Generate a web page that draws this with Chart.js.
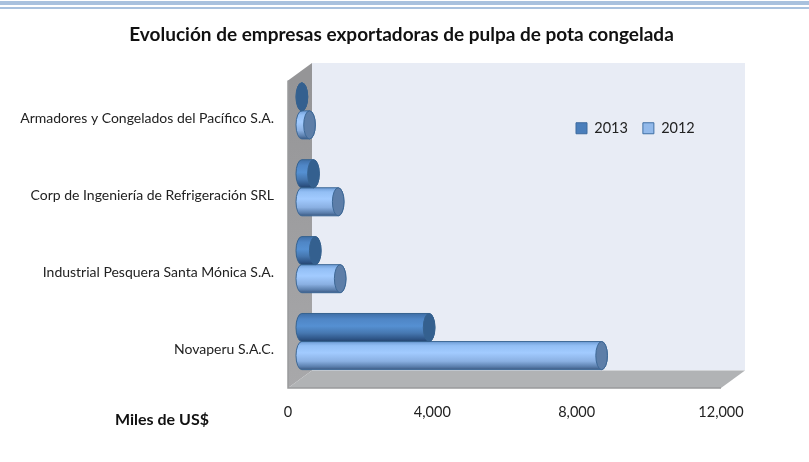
<!DOCTYPE html>
<html><head><meta charset="utf-8">
<style>html,body{margin:0;padding:0;background:#fff}canvas{display:block}</style>
<script src="https://cdn.jsdelivr.net/npm/chart.js@4"></script>
</head><body>
<div style="width:809px;height:462px;position:relative"><canvas id="c" width="809" height="462"></canvas></div>
<script>
const categories = ["Armadores y Congelados del Pacífico S.A.", "Corp de Ingeniería de Refrigeración SRL", "Industrial Pesquera Santa Mónica S.A.", "Novaperu S.A.C."];
const values2013 = [325, 645, 695, 3850];
const values2012 = [535, 1330, 1385, 8630];
const xTicks = [0, 4000, 8000, 12000];
const titleText = "Evolución de empresas exportadoras de pulpa de pota congelada";
const unitText = "Miles de US$";

const FONT = "Lato, Carlito, Calibri, sans-serif";
const DEPTH_X = 24, DEPTH_Y = 17.5, SHIFT_X = 8, SHIFT_Y = -8, RX = 5.8;

function poly(ctx, pts, fill) {
  ctx.beginPath();
  pts.forEach((p, i) => i ? ctx.lineTo(p[0], p[1]) : ctx.moveTo(p[0], p[1]));
  ctx.closePath();
  ctx.fillStyle = fill;
  ctx.fill();
}
function grad(ctx, y0, y1, stops) {
  const g = ctx.createLinearGradient(0, y0, 0, y1);
  stops.forEach(s => g.addColorStop(s[0], s[1]));
  return g;
}
const looks = {
  "2013": { stops: [[0, "#3f6ea6"], [0.2, "#4f86c6"], [0.45, "#5590d2"], [0.7, "#4677b0"], [0.9, "#2f5688"], [1, "#24446e"]], cap: "#34608f", line: "#36628f" },
  "2012": { stops: [[0, "#6f9dd6"], [0.15, "#93bff5"], [0.4, "#a2cbff"], [0.7, "#8ab0e2"], [0.9, "#5a7eac"], [1, "#3c5a84"]], cap: "#5d7ea8", line: "#3d6896" }
};
const stage = {
  id: "stage",
  afterLayout(chart) {
    const l = chart.legend;
    const w = l.right - l.left, h = l.bottom - l.top;
    l.left = 561; l.right = 561 + w; l.top = 106; l.bottom = l.top + h;
    chart.titleBlock.left = 0; chart.titleBlock.right = 803;
  },
  beforeDraw(chart) {
    const { ctx, chartArea: a } = chart;
    const L = a.left, R = a.right, T = a.top, B = a.bottom;
    ctx.save();
    poly(ctx, [[0, 1], [809, 1], [809, 5], [0, 5]], "#a9c1de");
    poly(ctx, [[0, 7], [809, 7], [809, 9], [0, 9]], "#a9c1de");
    poly(ctx, [[L + DEPTH_X, T - DEPTH_Y], [R + DEPTH_X, T - DEPTH_Y], [R + DEPTH_X, B - DEPTH_Y], [L + DEPTH_X, B - DEPTH_Y]], "#e8ecf5");
    poly(ctx, [[L, T], [L + DEPTH_X, T - DEPTH_Y], [L + DEPTH_X, B - DEPTH_Y], [L, B]], grad(ctx, T, B, [[0, "#959597"], [1, "#a8a8aa"]]));
    poly(ctx, [[L, B], [L + DEPTH_X, B - DEPTH_Y], [R + DEPTH_X, B - DEPTH_Y], [R, B]], "#b1b3b5");
    ctx.strokeStyle = "#999a9c"; ctx.lineWidth = 1.5;
    ctx.beginPath(); ctx.moveTo(L, T); ctx.lineTo(L, B); ctx.lineTo(R, B); ctx.stroke();
    ctx.restore();
  },
  beforeDatasetDraw(chart, args) {
    const { ctx } = chart;
    const ds = chart.data.datasets[args.index];
    const look = looks[ds.label];
    const x0 = chart.scales.x.getPixelForValue(0) + SHIFT_X;
    args.meta.data.forEach(bar => {
      const x1 = bar.x + SHIFT_X, cy = bar.y + SHIFT_Y, ry = bar.height / 2;
      const a = x0 + RX, b = Math.max(a, x1 - RX);
      ctx.save();
      ctx.lineWidth = 1; ctx.strokeStyle = look.line;
      ctx.beginPath();
      ctx.moveTo(b, cy - ry); ctx.lineTo(a, cy - ry);
      ctx.ellipse(a, cy, RX, ry, 0, -Math.PI / 2, -Math.PI * 1.5, true);
      ctx.lineTo(b, cy + ry);
      ctx.ellipse(b, cy, RX, ry, 0, Math.PI / 2, -Math.PI / 2, true);
      ctx.closePath();
      ctx.fillStyle = grad(ctx, cy - ry, cy + ry, look.stops);
      ctx.fill(); ctx.stroke();
      ctx.beginPath();
      ctx.ellipse(b, cy, RX, ry, 0, 0, Math.PI * 2);
      ctx.fillStyle = look.cap;
      ctx.fill(); ctx.stroke();
      ctx.restore();
    });
    return false;
  },
  afterDraw(chart) {
    const { ctx } = chart;
    ctx.save();
    ctx.font = "bold 16px " + FONT;
    ctx.fillStyle = "#111";
    ctx.textBaseline = "middle";
    ctx.fillText(unitText, 115, 420);
    ctx.restore();
  }
};
new Chart(document.getElementById("c"), {
  type: "bar",
  plugins: [stage],
  data: {
    labels: categories,
    datasets: [
      { label: "2013", data: values2013, backgroundColor: "#4a7ebb", borderColor: "#3c6a9e", borderWidth: 1 },
      { label: "2012", data: values2012, backgroundColor: "#92b9ea", borderColor: "#3f6fa4", borderWidth: 1 }
    ]
  },
  options: {
    indexAxis: "y",
    responsive: false,
    animation: false,
    layout: { padding: { left: 0, right: 88, top: 0, bottom: 0 } },
    datasets: { bar: { barPercentage: 1, categoryPercentage: 0.73 } },
    scales: {
      x: {
        type: "linear", min: 0, max: 12000,
        afterBuildTicks(s) { s.ticks = xTicks.map(v => ({ value: v })); },
        afterFit(s) { s.height = 74; },
        grid: { display: false }, border: { display: false },
        ticks: { color: "#222", font: { family: FONT, size: 14.5 }, padding: 8, maxRotation: 0,
          callback: v => v.toLocaleString("en-US") }
      },
      y: {
        type: "category",
        grid: { display: false }, border: { display: false },
        afterFit(s) { s.width = 288; },
        ticks: { color: "#222", font: { family: FONT, size: 14 }, padding: 6 }
      }
    },
    plugins: {
      tooltip: { enabled: false },
      title: { display: true, text: titleText, color: "#111",
        font: { family: FONT, size: 19, weight: "bold" }, padding: { top: 23, bottom: -4.9 } },
      legend: {
        display: true, position: "top", align: "start",
        labels: { boxWidth: 11, boxHeight: 11, color: "#222", font: { family: FONT, size: 14.5 }, padding: 15 }
      }
    }
  }
});
</script>
</body></html>
